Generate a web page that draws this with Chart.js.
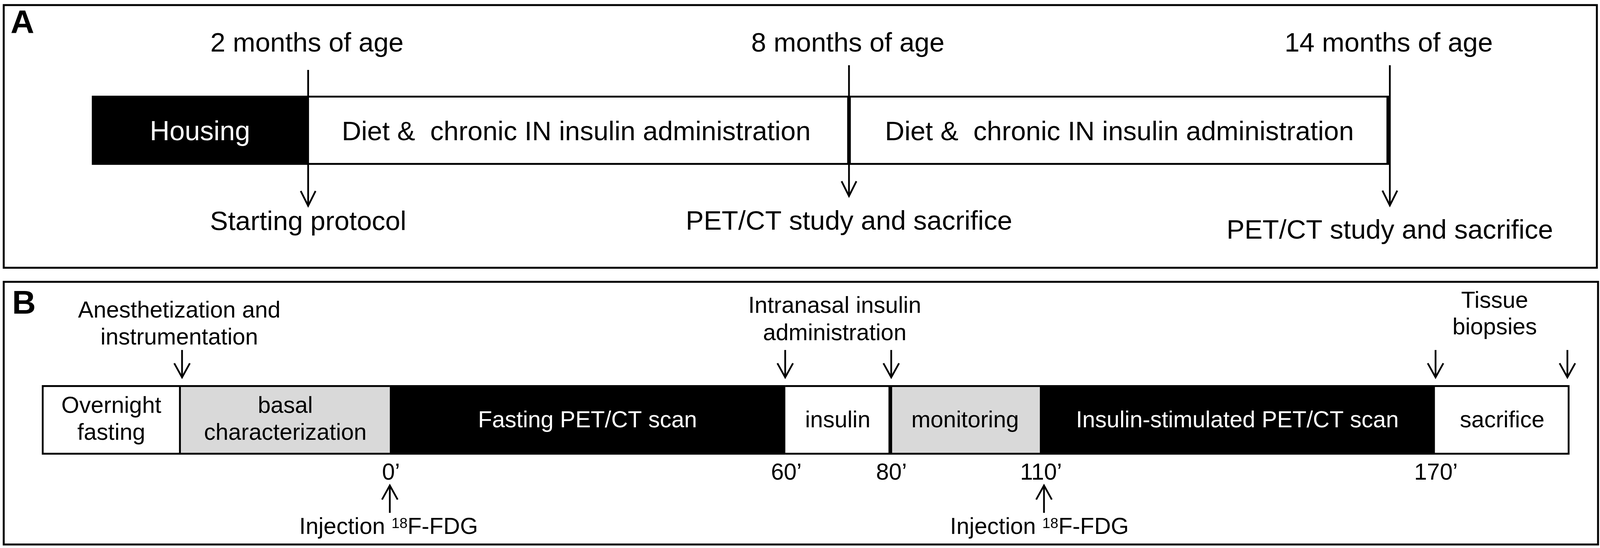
<!DOCTYPE html>
<html>
<head>
<meta charset="utf-8">
<script src="https://cdn.jsdelivr.net/npm/chart.js@4.4.1/dist/chart.umd.min.js"></script>
<style>
  html, body { margin: 0; padding: 0; background: #ffffff; }
  #wrap { position: relative; width: 4103px; height: 1403px; background: #ffffff; overflow: hidden; }
  canvas { position: absolute; left: 0; }
</style>
</head>
<body>
<div id="wrap">
  <canvas id="chartA" width="4103" height="700" style="top:0px"></canvas>
  <canvas id="chartB" width="4103" height="703" style="top:700px"></canvas>
</div>
<script>
// ---------------- DATA: panel A (months of age) ----------------
const monthTicksA   = [2, 8, 14];
const topLabelsA    = ['2 months of age', '8 months of age', '14 months of age'];
const bottomLabelsA = ['Starting protocol', 'PET/CT study and sacrifice', 'PET/CT study and sacrifice'];
const phaseNamesA   = ['Housing', 'Diet &  chronic IN insulin administration', 'Diet &  chronic IN insulin administration'];
const phaseStartA   = [-0.4, 2, 8];
const phaseEndA     = [2, 8, 14];

// ---------------- DATA: panel B (relative position along protocol, %) ----------------
const phaseNamesB  = [['Overnight', 'fasting'], ['basal', 'characterization'], ['Fasting PET/CT scan'],
                      ['insulin'], ['monitoring'], ['Insulin-stimulated PET/CT scan'], ['sacrifice']];
const phaseStartB  = [0, 9.1, 22.78, 48.66, 55.54, 65.33, 91.18];
const phaseEndB    = [9.1, 22.78, 48.66, 55.54, 65.33, 91.18, 100];
const timeLabelsB  = ['0\u2019', '60\u2019', '80\u2019', '110\u2019', '170\u2019'];
const timePosB     = [22.78, 48.66, 55.54, 65.33, 91.18];
const eventLabelsB = [['Anesthetization and', 'instrumentation'], ['Intranasal insulin', 'administration'], ['Tissue', 'biopsies']];
const eventLabelPosB = [9.0, 51.9, 95.1];
const eventArrowPosB = [[9.18], [48.66, 55.6], [91.23, 99.86]];
const injectionPosB  = [22.78, 65.6];
const injectionLabelPosB = [22.7, 65.3];

// ---------------- STYLE ----------------
const FONT = "'Liberation Sans', Arial, Helvetica, sans-serif";
const fillA = ['#000000', '#ffffff', '#ffffff'];
const textColA = ['#ffffff', '#000000', '#000000'];
const borderA = [
  {top: 0, bottom: 0, left: 0, right: 0},
  {top: 5, bottom: 5, left: 0, right: 5},
  {top: 5, bottom: 5, left: 5, right: 9}
];
const fillB = ['#ffffff', '#d9d9d9', '#000000', '#ffffff', '#d9d9d9', '#000000', '#ffffff'];
const textColB = ['#000000', '#000000', '#ffffff', '#000000', '#000000', '#ffffff', '#000000'];
const borderB = [
  {top: 5, bottom: 5, left: 5, right: 5},
  {top: 5, bottom: 5, left: 0, right: 0},
  {top: 0, bottom: 0, left: 0, right: 0},
  {top: 5, bottom: 5, left: 0, right: 5},
  {top: 5, bottom: 5, left: 5, right: 0},
  {top: 0, bottom: 0, left: 0, right: 0},
  {top: 5, bottom: 5, left: 0, right: 5}
];

function makeDatasets(starts, ends, fills, borders) {
  return starts.map((s, i) => ({
    data: [[s, ends[i]]],
    backgroundColor: fills[i],
    borderColor: '#000000',
    borderWidth: borders[i],
    borderSkipped: false,
    barPercentage: 1,
    categoryPercentage: 1,
    grouped: false
  }));
}

function arrow(ctx, x, yStart, yTip, lw, head, half) {
  ctx.save();
  ctx.strokeStyle = '#000';
  ctx.lineWidth = lw;
  ctx.lineCap = 'butt';
  ctx.lineJoin = 'miter';
  ctx.beginPath();
  ctx.moveTo(x, yStart);
  ctx.lineTo(x, yTip);
  ctx.stroke();
  const dir = yTip > yStart ? -1 : 1;
  ctx.beginPath();
  ctx.moveTo(x - half, yTip + dir * head);
  ctx.lineTo(x, yTip);
  ctx.lineTo(x + half, yTip + dir * head);
  ctx.stroke();
  ctx.restore();
}

function text(ctx, str, x, y, size, color, weight, align) {
  ctx.save();
  ctx.font = (weight || 'normal') + ' ' + size + 'px ' + FONT;
  ctx.fillStyle = color || '#000';
  ctx.textAlign = align || 'center';
  ctx.textBaseline = 'alphabetic';
  ctx.fillText(str, x, y);
  ctx.restore();
}

function frame(ctx, x0, y0, x1, y1) {
  ctx.save();
  ctx.strokeStyle = '#000';
  ctx.lineWidth = 5;
  ctx.strokeRect(x0, y0, x1 - x0, y1 - y0);
  ctx.restore();
}

const baseOptions = (pad, xmin, xmax) => ({
  responsive: false,
  animation: false,
  devicePixelRatio: 1,
  indexAxis: 'y',
  events: [],
  layout: { padding: pad },
  plugins: { legend: { display: false }, tooltip: { enabled: false } },
  scales: {
    x: { type: 'linear', min: xmin, max: xmax, display: false, grid: { display: false } },
    y: { type: 'category', display: false, grid: { display: false } }
  }
});

// ---------------- PANEL A ----------------
const panelAPlugin = {
  id: 'panelA',
  afterDatasetsDraw(chart) {
    const ctx = chart.ctx;
    const xs = chart.scales.x;
    const area = chart.chartArea;
    const midY = (area.top + area.bottom) / 2;
    frame(ctx, 9.5, 13, 4088, 685.5);
    text(ctx, 'A', 27, 85, 84, '#000', 'bold', 'left');
    // phase labels
    phaseNamesA.forEach((name, i) => {
      const cx = (xs.getPixelForValue(phaseStartA[i]) + xs.getPixelForValue(phaseEndA[i])) / 2;
      text(ctx, name, cx - (i === 1 ? 6 : 0), midY + 25, i === 0 ? 70 : 69, textColA[i]);
    });
    // age markers
    const lineTop = [179, 167, 167];
    const tipY = [527, 502, 526];
    const botBase = [589, 588, 611];
    monthTicksA.forEach((m, i) => {
      const x = xs.getPixelForValue(m);
      text(ctx, topLabelsA[i], x - 3, 132, 69, '#000');
      arrow(ctx, x, lineTop[i], tipY[i], 4.5, 38, 19);
      text(ctx, bottomLabelsA[i], x, botBase[i], 69, '#000');
    });
  }
};

new Chart(document.getElementById('chartA'), {
  type: 'bar',
  data: { labels: ['A'], datasets: makeDatasets(phaseStartA, phaseEndA, fillA, borderA) },
  options: baseOptions({ left: 235, right: 4103 - 3558, top: 245, bottom: 700 - 422 }, -0.4, 14),
  plugins: [panelAPlugin]
});

// ---------------- PANEL B ----------------
const OFF = 700; // canvas B starts at page y = 700
const panelBPlugin = {
  id: 'panelB',
  afterDatasetsDraw(chart) {
    const ctx = chart.ctx;
    const xs = chart.scales.x;
    frame(ctx, 9.5, 721.5 - OFF, 4091, 1394 - OFF);
    text(ctx, 'B', 31, 803 - OFF, 84, '#000', 'bold', 'left');
    // phase labels
    phaseNamesB.forEach((lines, i) => {
      const cx = (xs.getPixelForValue(phaseStartB[i]) + xs.getPixelForValue(phaseEndB[i])) / 2;
      if (lines.length === 1) {
        text(ctx, lines[0], cx, 1094 - OFF, 59, textColB[i]);
      } else {
        text(ctx, lines[0], cx, 1057 - OFF, 59, textColB[i]);
        text(ctx, lines[1], cx, 1126 - OFF, 59, textColB[i]);
      }
    });
    // event labels above the bar
    const evBase = [[813, 882], [801, 871], [788, 856]];
    eventLabelsB.forEach((lines, i) => {
      const cx = xs.getPixelForValue(eventLabelPosB[i]);
      lines.forEach((ln, k) => text(ctx, ln, cx, evBase[i][k] - OFF, 59, '#000'));
      eventArrowPosB[i].forEach(v => arrow(ctx, xs.getPixelForValue(v), 896 - OFF, 966 - OFF, 4.5, 36, 20));
    });
    // time marks below the bar
    timeLabelsB.forEach((lab, i) => {
      text(ctx, lab, xs.getPixelForValue(timePosB[i]) + 3, 1228 - OFF, 59, '#000');
    });
    // injections
    injectionPosB.forEach((v, i) => {
      arrow(ctx, xs.getPixelForValue(v), 1313 - OFF, 1243 - OFF, 4.5, 36, 20);
      const cx = xs.getPixelForValue(injectionLabelPosB[i]);
      ctx.save();
      const big = '59px ' + FONT, small = '37px ' + FONT;
      ctx.font = big;
      const w1 = ctx.measureText('Injection ').width;
      const w3 = ctx.measureText('F-FDG').width;
      ctx.font = small;
      const w2 = ctx.measureText('18').width;
      const total = w1 + w2 + w3;
      let x = cx - total / 2;
      const base = 1367 - OFF;
      ctx.fillStyle = '#000';
      ctx.textAlign = 'left';
      ctx.textBaseline = 'alphabetic';
      ctx.font = big; ctx.fillText('Injection ', x, base); x += w1;
      ctx.font = small; ctx.fillText('18', x, base - 15); x += w2;
      ctx.font = big; ctx.fillText('F-FDG', x, base);
      ctx.restore();
    });
  }
};

new Chart(document.getElementById('chartB'), {
  type: 'bar',
  data: { labels: ['B'], datasets: makeDatasets(phaseStartB, phaseEndB, fillB, borderB) },
  options: baseOptions({ left: 107, right: 4103 - 4018, top: 986 - OFF, bottom: 703 - (1164 - OFF) }, 0, 100),
  plugins: [panelBPlugin]
});
</script>
</body>
</html>
